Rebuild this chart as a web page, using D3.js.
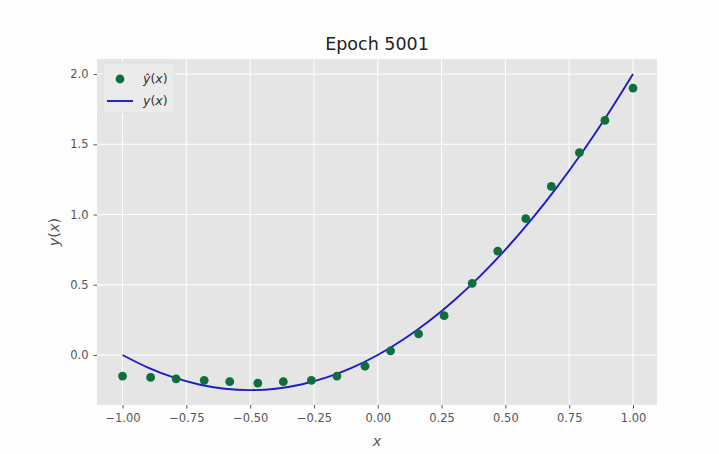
<!DOCTYPE html>
<html>
<head>
<meta charset="utf-8">
<script src="https://cdn.jsdelivr.net/npm/d3@7"></script>
<style>
    body { margin: 0; background: #fdfdfd; }
    svg { display: block; font-family: "DejaVu Sans", sans-serif; }
</style>
</head>
<body>
<div id="chart"></div>
<script>
// predicted points (dots)
const predX = [-1.00, -0.89, -0.79, -0.68, -0.58, -0.47, -0.37, -0.26, -0.16, -0.05,
               0.05, 0.16, 0.26, 0.37, 0.47, 0.58, 0.68, 0.79, 0.89, 1.00];
const predY = [-0.15, -0.16, -0.17, -0.18, -0.19, -0.20, -0.19, -0.18, -0.15, -0.08,
               0.03, 0.15, 0.28, 0.51, 0.74, 0.97, 1.20, 1.44, 1.67, 1.90];

// true curve
const trueX = [-1.0, -0.9, -0.8, -0.7, -0.6, -0.5, -0.4, -0.3, -0.2, -0.1, 0.0,
               0.1, 0.2, 0.3, 0.4, 0.5, 0.6, 0.7, 0.8, 0.9, 1.0];
const trueY = [0.00, -0.09, -0.16, -0.21, -0.24, -0.25, -0.24, -0.21, -0.16, -0.09, 0.00,
               0.11, 0.24, 0.39, 0.56, 0.75, 0.96, 1.19, 1.44, 1.71, 2.00];

const xTicks = [-1.00, -0.75, -0.50, -0.25, 0.00, 0.25, 0.50, 0.75, 1.00];
const yTicks = [0.0, 0.5, 1.0, 1.5, 2.0];

const width = 719, height = 454;
const margin = {left: 97, right: 62, top: 59, bottom: 49};
const innerWidth = width - margin.left - margin.right;
const innerHeight = height - margin.top - margin.bottom;

const svg = d3.select("#chart").append("svg")
    .attr("width", width)
    .attr("height", height);

const x = d3.scaleLinear().domain([-1.1, 1.094]).range([0, innerWidth]);
const y = d3.scaleLinear().domain([-0.356, 2.107]).range([innerHeight, 0]);

const g = svg.append("g")
    .attr("transform", `translate(${margin.left},${margin.top})`);

// plot background
g.append("rect")
    .attr("width", innerWidth)
    .attr("height", innerHeight)
    .attr("fill", "#e5e5e5");

// grid
g.append("g").selectAll("line").data(xTicks).join("line")
    .attr("x1", d => x(d)).attr("x2", d => x(d))
    .attr("y1", 0).attr("y2", innerHeight)
    .attr("stroke", "#fff").attr("stroke-width", 1);
g.append("g").selectAll("line").data(yTicks).join("line")
    .attr("y1", d => y(d)).attr("y2", d => y(d))
    .attr("x1", 0).attr("x2", innerWidth)
    .attr("stroke", "#fff").attr("stroke-width", 1);

// axes
const xAxis = g.append("g")
    .attr("transform", `translate(0,${innerHeight})`)
    .call(d3.axisBottom(x).tickValues(xTicks).tickFormat(d3.format(".2f")).tickSize(3.5).tickPadding(5));
const yAxis = g.append("g")
    .call(d3.axisLeft(y).tickValues(yTicks).tickFormat(d3.format(".1f")).tickSize(3.5).tickPadding(5));

[xAxis, yAxis].forEach(a => {
    a.select(".domain").remove();
    a.selectAll(".tick line").attr("stroke", "#555");
    a.selectAll(".tick text")
        .attr("fill", "#555")
        .attr("font-size", "11.5px")
        .attr("font-family", "DejaVu Sans, sans-serif");
});

// true curve
const line = d3.line()
    .x(d => x(d[0]))
    .y(d => y(d[1]))
    .curve(d3.curveCatmullRom);
g.append("path")
    .datum(trueX.map((v, i) => [v, trueY[i]]))
    .attr("d", line)
    .attr("fill", "none")
    .attr("stroke", "#1d1dc8")
    .attr("stroke-width", 1.9);

// predicted dots
g.append("g").selectAll("circle")
    .data(predX.map((v, i) => [v, predY[i]]))
    .join("circle")
    .attr("cx", d => x(d[0]))
    .attr("cy", d => y(d[1]))
    .attr("r", 4.4)
    .attr("fill", "#0f6e3e");

// title
svg.append("text")
    .attr("x", margin.left + innerWidth / 2)
    .attr("y", 50)
    .attr("text-anchor", "middle")
    .attr("font-size", "17.5px")
    .attr("fill", "#222")
    .text("Epoch 5001");

// axis labels
function mathLabel(sel, parts) {
    parts.forEach(p => {
        sel.append("tspan")
            .attr("font-style", p[1] ? "italic" : "normal")
            .text(p[0]);
    });
}

const xl = svg.append("text")
    .attr("x", margin.left + innerWidth / 2)
    .attr("y", 446)
    .attr("text-anchor", "middle")
    .attr("font-size", "14.5px")
    .attr("fill", "#555");
mathLabel(xl, [["x", true]]);

const yl = svg.append("text")
    .attr("transform", `translate(59,${margin.top + innerHeight / 2}) rotate(-90)`)
    .attr("text-anchor", "middle")
    .attr("font-size", "14.5px")
    .attr("fill", "#555");
mathLabel(yl, [["y", true], ["(", false], ["x", true], [")", false]]);

// legend
const legend = g.append("g").attr("transform", "translate(6,4)");
legend.append("rect")
    .attr("width", 71)
    .attr("height", 50)
    .attr("rx", 3)
    .attr("fill", "#ebebeb")
    .attr("stroke", "#dcdcdc")
    .attr("stroke-width", 0.8);
legend.append("circle")
    .attr("cx", 17).attr("cy", 16).attr("r", 4.4)
    .attr("fill", "#0f6e3e");
legend.append("line")
    .attr("x1", 4).attr("x2", 30)
    .attr("y1", 38).attr("y2", 38)
    .attr("stroke", "#1d1dc8").attr("stroke-width", 1.9);
const l1 = legend.append("text")
    .attr("x", 40).attr("y", 20)
    .attr("font-size", "12.5px").attr("fill", "#333");
mathLabel(l1, [["\u0177", true], ["(", false], ["x", true], [")", false]]);
const l2 = legend.append("text")
    .attr("x", 40).attr("y", 42)
    .attr("font-size", "12.5px").attr("fill", "#333");
mathLabel(l2, [["y", true], ["(", false], ["x", true], [")", false]]);
</script>
</body>
</html>
